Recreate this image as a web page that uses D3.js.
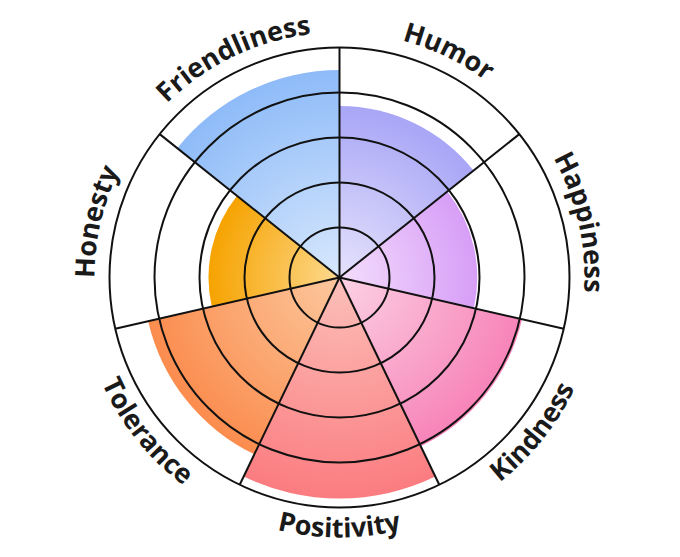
<!DOCTYPE html>
<html lang="en">
<head>
  <meta charset="UTF-8">
  <title>chart</title>
</head>
<body>
<style>
  * {
    padding: 0;
    margin: 0;
  }

  body {
    background: #fff;
  }

  #app {
    width: 680px;
    height: 557px;
  }
</style>

<div id="app"></div>

<script src="https://cdn.jsdelivr.net/npm/d3@7"></script>
<script>
  // clockwise from 12 o'clock
  let categories = ["Humor", "Happiness", "Kindness", "Positivity", "Tolerance", "Honesty", "Friendliness"]
  let values = [3.7, 2.95, 4.05, 4.8, 4.25, 2.8, 4.5]
  let ticks = [1, 2, 3, 4, 5]
  let outerColors = ["#a8a6f6", "#d79ef7", "#f783b8", "#fb7c80", "#fb8c4e", "#f6a300", "#8ebbf8"]
  let innerColors = ["#e6e2fc", "#f4defc", "#fcd2e4", "#fcc0ba", "#fcc89e", "#fdd98e", "#d8e8fd"]

  let $width = 680, $height = 557, cx = 339.5, cy = 277.5

  let r = d3.scaleLinear().domain([0, 5]).range([5, 230])
  let angle = d3.scaleBand().domain(categories).range([0, 2 * Math.PI]).padding(0)

  let svg = d3.select("#app").append("svg").attr("width", $width).attr("height", $height)
  let defs = svg.append("defs")
  let g = svg.append("g").attr("transform", "translate(" + cx + "," + cy + ")")

  categories.forEach(function (c, i) {
    let grad = defs.append("radialGradient").attr("id", "grad" + i)
      .attr("gradientUnits", "userSpaceOnUse").attr("cx", 0).attr("cy", 0).attr("r", r(values[i]))
    grad.append("stop").attr("offset", "0%").attr("stop-color", innerColors[i])
    grad.append("stop").attr("offset", "100%").attr("stop-color", outerColors[i])
  })

  let arc = d3.arc().innerRadius(0)

  g.selectAll("path.wedge").data(categories).enter().append("path").attr("class", "wedge")
    .attr("d", function (d, i) {
      return arc({
        outerRadius: r(values[i]),
        startAngle: angle(d),
        endAngle: angle(d) + angle.bandwidth()
      })
    })
    .attr("fill", function (d, i) {
      return "url(#grad" + i + ")"
    })

  // rings
  g.selectAll("circle").data(ticks).enter().append("circle")
    .attr("r", function (d) {
      return r(d)
    })
    .attr("fill", "none").attr("stroke", "#111").attr("stroke-width", 2)

  // spokes
  g.selectAll("line").data(categories).enter().append("line")
    .attr("x1", 0).attr("y1", 0)
    .attr("x2", function (d) {
      return r(5) * Math.sin(angle(d))
    })
    .attr("y2", function (d) {
      return -r(5) * Math.cos(angle(d))
    })
    .attr("stroke", "#111").attr("stroke-width", 2)

  // labels on arcs
  function pt(rad, a) {
    return [rad * Math.sin(a), -rad * Math.cos(a)]
  }

  let span = 80 * Math.PI / 180
  categories.forEach(function (c, i) {
    let mid = angle(c) + angle.bandwidth() / 2
    let bottom = mid > Math.PI / 2 && mid < 3 * Math.PI / 2
    let rad = bottom ? 260 : 245
    let p0, p1, sweep
    if (bottom) {
      p0 = pt(rad, mid + span); p1 = pt(rad, mid - span); sweep = 0
    } else {
      p0 = pt(rad, mid - span); p1 = pt(rad, mid + span); sweep = 1
    }
    defs.append("path").attr("id", "lab" + i)
      .attr("d", "M" + p0[0] + "," + p0[1] + " A" + rad + "," + rad + " 0 0 " + sweep + " " + p1[0] + "," + p1[1])
  })

  g.selectAll("text").data(categories).enter().append("text")
    .attr("font-family", "'Open Sans', sans-serif").attr("font-weight", 700)
    .attr("font-size", "27px").attr("fill", "#1a1a1a")
    .append("textPath")
    .attr("href", function (d, i) {
      return "#lab" + i
    })
    .attr("startOffset", "50%").attr("text-anchor", "middle")
    .text(function (d) {
      return d
    })
</script>
</body>
</html>
